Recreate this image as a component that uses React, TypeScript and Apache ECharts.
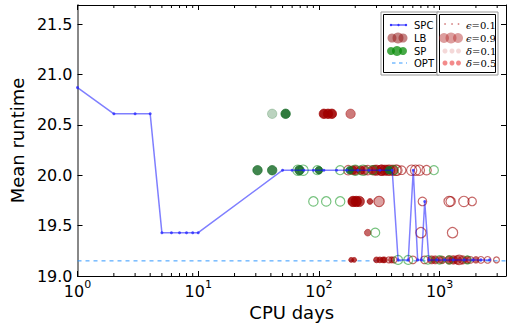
import React, { useEffect, useRef } from 'react';
import * as echarts from 'echarts';

// ---- data ----
const yTickValues = [19.0, 19.5, 20.0, 20.5, 21.0, 21.5];
const xMinorTicks = [2, 3, 4, 5, 6, 7, 8, 9, 20, 30, 40, 50, 60, 70, 80, 90, 200, 300, 400, 500, 600, 700, 800, 900, 2000, 3000];
const optRuntime = 19.15;

// SPC curve: [cpuDays, meanRuntime]
const spcPoints = [
  [1, 20.87], [2, 20.61], [3, 20.61], [4, 20.61],
  [5, 19.43], [6, 19.43], [7, 19.43], [8, 19.43], [9, 19.43], [10, 19.43],
  [50, 20.05], [60, 20.05], [75, 20.05], [90, 20.05], [110, 20.05], [140, 20.05], [170, 20.05],
  [210, 20.05], [260, 20.05], [320, 20.05], [405, 20.05],
  [453, 19.16], [550, 19.16], [605, 20.05], [658, 19.16], [708, 19.16], [753, 19.74], [815, 19.16],
  [950, 19.16], [1100, 19.16], [1300, 19.16], [1600, 19.16], [1900, 19.16], [2200, 19.16], [2600, 19.16],
];

// scatter points: [cpuDays, meanRuntime, epsilon, delta]
const spFilled = [
  [41, 20.61, 0.6, 0.1], [53, 20.61, 0.6, 0.9],
  [31, 20.05, 0.6, 0.8], [41, 20.05, 0.6, 0.8], [69, 20.05, 0.6, 0.9],
  [100, 20.05, 0.4, 0.9], [180, 20.05, 0.4, 0.9], [380, 20.05, 0.4, 0.9],
];
const spHollow = [
  [67, 20.05, 0.7, 0.5], [74, 20.05, 0.7, 0.5], [97, 20.05, 0.55, 0.5], [150, 20.05, 0.55, 0.5],
  [200, 20.05, 0.7, 0.5], [232, 20.05, 0.7, 0.5], [279, 20.05, 0.55, 0.5], [418, 20.05, 0.55, 0.5],
  [897, 20.05, 0.55, 0.5],
  [90, 19.74, 0.6, 0.5], [115, 19.74, 0.6, 0.5], [150, 19.74, 0.6, 0.5],
  [293, 19.43, 0.55, 0.5],
  [453, 19.16, 0.55, 0.5], [550, 19.16, 0.55, 0.5], [800, 19.16, 0.5, 0.5], [1000, 19.16, 0.5, 0.5],
  [1200, 19.16, 0.45, 0.5], [1700, 19.16, 0.45, 0.5],
];
const lbFilled = [
  [110, 20.61, 0.6, 0.9], [119, 20.61, 0.6, 0.9], [128, 20.61, 0.6, 0.9],
  [183, 20.61, 0.6, 0.4],
  [190, 20.05, 0.5, 0.7], [200, 20.05, 0.6, 0.6], [222, 20.05, 0.5, 0.7], [240, 20.05, 0.6, 0.5],
  [280, 20.05, 0.6, 0.5], [300, 20.05, 0.7, 0.6], [330, 20.05, 0.7, 0.7], [352, 20.05, 0.7, 0.6],
  [372, 20.05, 0.7, 0.5], [410, 20.05, 0.7, 0.6],
  [192, 19.74, 0.7, 0.9], [204, 19.74, 0.7, 0.9], [216, 19.74, 0.7, 0.7], [265, 19.74, 0.2, 0.7], [315, 19.74, 0.7, 0.2],
  [254, 19.43, 0.3, 0.5],
  [185, 19.16, 0.1, 0.7], [196, 19.16, 0.1, 0.7], [300, 19.16, 0.2, 0.7], [320, 19.16, 0.2, 0.7], [340, 19.16, 0.2, 0.7],
  [350, 19.16, 0.2, 0.6], [400, 19.16, 0.25, 0.6],
  [860, 19.16, 0.45, 0.5], [920, 19.16, 0.45, 0.5], [1050, 19.16, 0.4, 0.5], [1200, 19.16, 0.5, 0.6],
  [1300, 19.16, 0.5, 0.6], [1400, 19.16, 0.5, 0.5], [1550, 19.16, 0.5, 0.5], [1700, 19.16, 0.4, 0.5],
  [2000, 19.16, 0.3, 0.5],
];
const lbHollow = [
  [175, 20.05, 0.6, 0.5], [254, 20.05, 0.6, 0.5], [289, 20.05, 0.6, 0.5],
  [330, 20.05, 0.7, 0.5], [385, 20.05, 0.7, 0.5], [435, 20.05, 0.7, 0.5], [444, 20.05, 0.7, 0.4], [485, 20.05, 0.5, 0.5],
  [587, 20.05, 0.7, 0.5], [632, 20.05, 0.7, 0.5], [680, 20.05, 0.7, 0.5], [780, 20.05, 0.6, 0.5],
  [315, 19.74, 0.7, 0.3], [721, 19.74, 0.5, 0.5], [1200, 19.74, 0.7, 0.5], [1235, 19.74, 0.6, 0.5],
  [1590, 19.74, 0.7, 0.5], [1860, 19.74, 0.5, 0.5],
  [700, 19.43, 0.7, 0.5], [1280, 19.43, 0.7, 0.5],
  [380, 19.16, 0.2, 0.5], [420, 19.16, 0.2, 0.5], [600, 19.16, 0.4, 0.5], [750, 19.16, 0.4, 0.5],
  [1000, 19.16, 0.3, 0.5], [1450, 19.16, 0.6, 0.5], [1800, 19.16, 0.3, 0.5],
  [2200, 19.16, 0.3, 0.5], [2500, 19.16, 0.3, 0.5], [2960, 19.16, 0.2, 0.5],
];

const legendLeft = ['SPC', 'LB', 'SP', 'OPT'];
const legendRight = [['ϵ', '=0.1'], ['ϵ', '=0.9'], ['δ', '=0.1'], ['δ', '=0.5']];

// ---- styling helpers ----
const X_MIN = 1;
const X_MAX = 3550;
const Y_MIN = 19;
const Y_MAX = 21.69;
const LB_COLOR = '#a00000';
const SP_FILL = '#176b27';
const SP_EDGE = '#1c9a2a';
const sizeOf = (eps: number) => 4 + 9 * eps;
const alphaOf = (delta: number) => 0.22 + 0.75 * delta;

function scatterSeries(points: number[][], color: string, hollow: boolean) {
  return {
    type: 'scatter',
    symbol: 'circle',
    silent: true,
    z: 3,
    symbolSize: (v: number[]) => sizeOf(v[2]),
    data: points.map((p) => ({
      value: p,
      itemStyle: hollow
        ? { color: 'rgba(255,255,255,0)', borderColor: color, borderWidth: 1.2, opacity: alphaOf(p[3]) }
        : { color, borderColor: color, borderWidth: 0.8, opacity: alphaOf(p[3]) },
    })),
  };
}

function xLabel(v: number) {
  const n = Math.round(Math.log10(v));
  if (Math.abs(Math.pow(10, n) - v) / v > 1e-6) return '';
  return '{b|10}{s|' + n + '}';
}

function buildLegend() {
  const els: any[] = [];
  const rows = [25, 38, 51, 63];
  els.push({ type: 'rect', shape: { x: 381, y: 12, width: 58, height: 63 }, style: { fill: '#fff', stroke: '#999', lineWidth: 1 }, z: 10 });
  els.push({ type: 'rect', shape: { x: 383.5, y: 14.5, width: 53, height: 58 }, style: { fill: '#fff', stroke: '#000', lineWidth: 1 }, z: 10 });
  els.push({ type: 'rect', shape: { x: 437, y: 12, width: 61, height: 63 }, style: { fill: '#fff', stroke: '#999', lineWidth: 1 }, z: 10 });
  els.push({ type: 'rect', shape: { x: 439.5, y: 14.5, width: 56, height: 58 }, style: { fill: '#fff', stroke: '#000', lineWidth: 1 }, z: 10 });
  els.push({ type: 'line', shape: { x1: 391, y1: rows[0], x2: 406, y2: rows[0] }, style: { stroke: 'rgba(0,0,255,0.6)', lineWidth: 1.5 }, z: 11 });
  [391, 398.5, 406].forEach((x) => els.push({ type: 'circle', shape: { cx: x, cy: rows[0], r: 1.2 }, style: { fill: '#3030ff' }, z: 11 }));
  [[392, 4.5], [398, 5.5], [403, 4.5]].forEach(([x, r]) => els.push({ type: 'circle', shape: { cx: x, cy: rows[1], r }, style: { fill: 'rgba(150,30,30,0.55)' }, z: 11 }));
  [[391, 4], [397, 5], [403, 4]].forEach(([x, r]) => els.push({ type: 'circle', shape: { cx: x, cy: rows[2], r }, style: { fill: 'rgba(10,140,10,0.75)' }, z: 11 }));
  els.push({ type: 'line', shape: { x1: 392, y1: rows[3], x2: 407, y2: rows[3] }, style: { stroke: '#3399ff', lineWidth: 1, lineDash: [3.5, 3.5] }, z: 11 });
  legendLeft.forEach((t, i) => els.push({ type: 'text', x: 414, y: rows[i], style: { text: t, font: '10px "DejaVu Sans"', fill: '#000', verticalAlign: 'middle' }, z: 11 }));
  const mx = [445, 452, 458.5];
  mx.forEach((x) => els.push({ type: 'circle', shape: { cx: x, cy: rows[0] - 1, r: 0.9 }, style: { fill: 'rgba(190,60,60,0.6)' }, z: 11 }));
  [[444, 5], [451, 5.5], [458, 5]].forEach(([x, r]) => els.push({ type: 'circle', shape: { cx: x, cy: rows[1], r }, style: { fill: 'rgba(180,40,40,0.45)' }, z: 11 }));
  mx.forEach((x) => els.push({ type: 'circle', shape: { cx: x, cy: rows[2], r: 2.5 }, style: { fill: 'rgba(200,60,60,0.2)' }, z: 11 }));
  mx.forEach((x) => els.push({ type: 'circle', shape: { cx: x, cy: rows[3], r: 2.5 }, style: { fill: 'rgba(235,60,60,0.6)' }, z: 11 }));
  legendRight.forEach(([g, t], i) => els.push({
    type: 'text', x: 466, y: rows[i],
    style: {
      text: '{g|' + g + '}{t|' + t + '}',
      verticalAlign: 'middle',
      rich: {
        g: { font: 'italic 10px "DejaVu Serif"', fill: '#000' },
        t: { font: '10px "DejaVu Serif"', fill: '#000' },
      },
    }, z: 11,
  }));
  return els;
}

export default function App() {
  const ref = useRef<HTMLDivElement>(null);
  useEffect(() => {
    if (!ref.current) return;
    const chart = echarts.init(ref.current, undefined, { renderer: 'svg' });
    const axisLineBlack = { show: true, lineStyle: { color: '#000', width: 1 } };
    chart.setOption({
      animation: false,
      backgroundColor: '#fff',
      textStyle: { fontFamily: 'DejaVu Sans' },
      grid: { left: 68, right: 6, top: 5, bottom: 52, containLabel: false },
      xAxis: [
        {
          type: 'log', logBase: 10, min: X_MIN, max: X_MAX, position: 'bottom',
          name: 'CPU days', nameLocation: 'middle', nameGap: 26,
          nameTextStyle: { fontSize: 18, color: '#000', fontFamily: 'DejaVu Sans' },
          axisLine: axisLineBlack,
          axisTick: { show: true, inside: true, length: 5, lineStyle: { color: '#000' } },
          splitLine: { show: false },
          minorTick: { show: false },
          axisLabel: {
            show: true, margin: 3, color: '#000', showMaxLabel: false,
            formatter: xLabel,
            rich: {
              b: { fontSize: 16, fontFamily: 'DejaVu Sans', color: '#000', lineHeight: 20, verticalAlign: 'bottom' },
              s: { fontSize: 11, fontFamily: 'DejaVu Sans', color: '#000', verticalAlign: 'top', lineHeight: 20 },
            },
          },
        },
        {
          type: 'log', logBase: 10, min: X_MIN, max: X_MAX, position: 'top',
          axisLine: axisLineBlack,
          axisTick: { show: true, inside: true, length: 5, lineStyle: { color: '#000' } },
          axisLabel: { show: false }, splitLine: { show: false },
        },
      ],
      yAxis: [
        {
          type: 'value', min: Y_MIN, max: Y_MAX, interval: 0.5, position: 'left',
          name: 'Mean runtime', nameLocation: 'middle', nameGap: 47, nameRotate: 90,
          nameTextStyle: { fontSize: 18, color: '#000', fontFamily: 'DejaVu Sans' },
          axisLine: { show: true, lineStyle: { color: '#888', width: 2 } },
          axisTick: { show: true, inside: true, length: 5, lineStyle: { color: '#000' } },
          splitLine: { show: false },
          axisLabel: {
            show: true, margin: 5, fontSize: 16, color: '#000', fontFamily: 'DejaVu Sans',
            formatter: (v: number) => (yTickValues.some((t) => Math.abs(t - v) < 1e-6) ? v.toFixed(1) : ''),
          },
        },
        {
          type: 'value', min: Y_MIN, max: Y_MAX, interval: 0.5, position: 'right',
          axisLine: axisLineBlack,
          axisTick: { show: true, inside: true, length: 5, lineStyle: { color: '#000' } },
          axisLabel: { show: false }, splitLine: { show: false },
        },
      ],
      series: [
        {
          type: 'custom', silent: true, z: 1,
          data: xMinorTicks.map((v) => [v, Y_MIN]),
          encode: { x: 0, y: 1 },
          renderItem: (params: any, api: any) => {
            const x = api.coord([api.value(0), Y_MIN])[0];
            const cs = params.coordSys;
            return {
              type: 'group',
              children: [
                { type: 'line', shape: { x1: x, y1: cs.y + cs.height, x2: x, y2: cs.y + cs.height - 3 }, style: { stroke: '#000', lineWidth: 1 } },
                { type: 'line', shape: { x1: x, y1: cs.y, x2: x, y2: cs.y + 3 }, style: { stroke: '#000', lineWidth: 1 } },
              ],
            };
          },
        },
        {
          type: 'line', silent: true, z: 2, symbol: 'none',
          data: [[X_MIN, optRuntime], [X_MAX, optRuntime]],
          lineStyle: { color: '#3399ff', width: 1, type: [4, 4] },
        },
        scatterSeries(lbHollow, LB_COLOR, true),
        scatterSeries(lbFilled, LB_COLOR, false),
        scatterSeries(spHollow, SP_EDGE, true),
        scatterSeries(spFilled, SP_FILL, false),
        {
          type: 'line', silent: true, z: 5,
          data: spcPoints,
          symbol: 'circle', symbolSize: 3, showSymbol: true,
          itemStyle: { color: '#2a2aff', opacity: 0.8 },
          lineStyle: { color: 'rgba(0,0,255,0.5)', width: 1.5 },
        },
      ],
      graphic: buildLegend(),
    });
    return () => chart.dispose();
  }, []);
  return <div ref={ref} style={{ position: 'fixed', left: 0, top: 0, width: 512, height: 328 }} />;
}
